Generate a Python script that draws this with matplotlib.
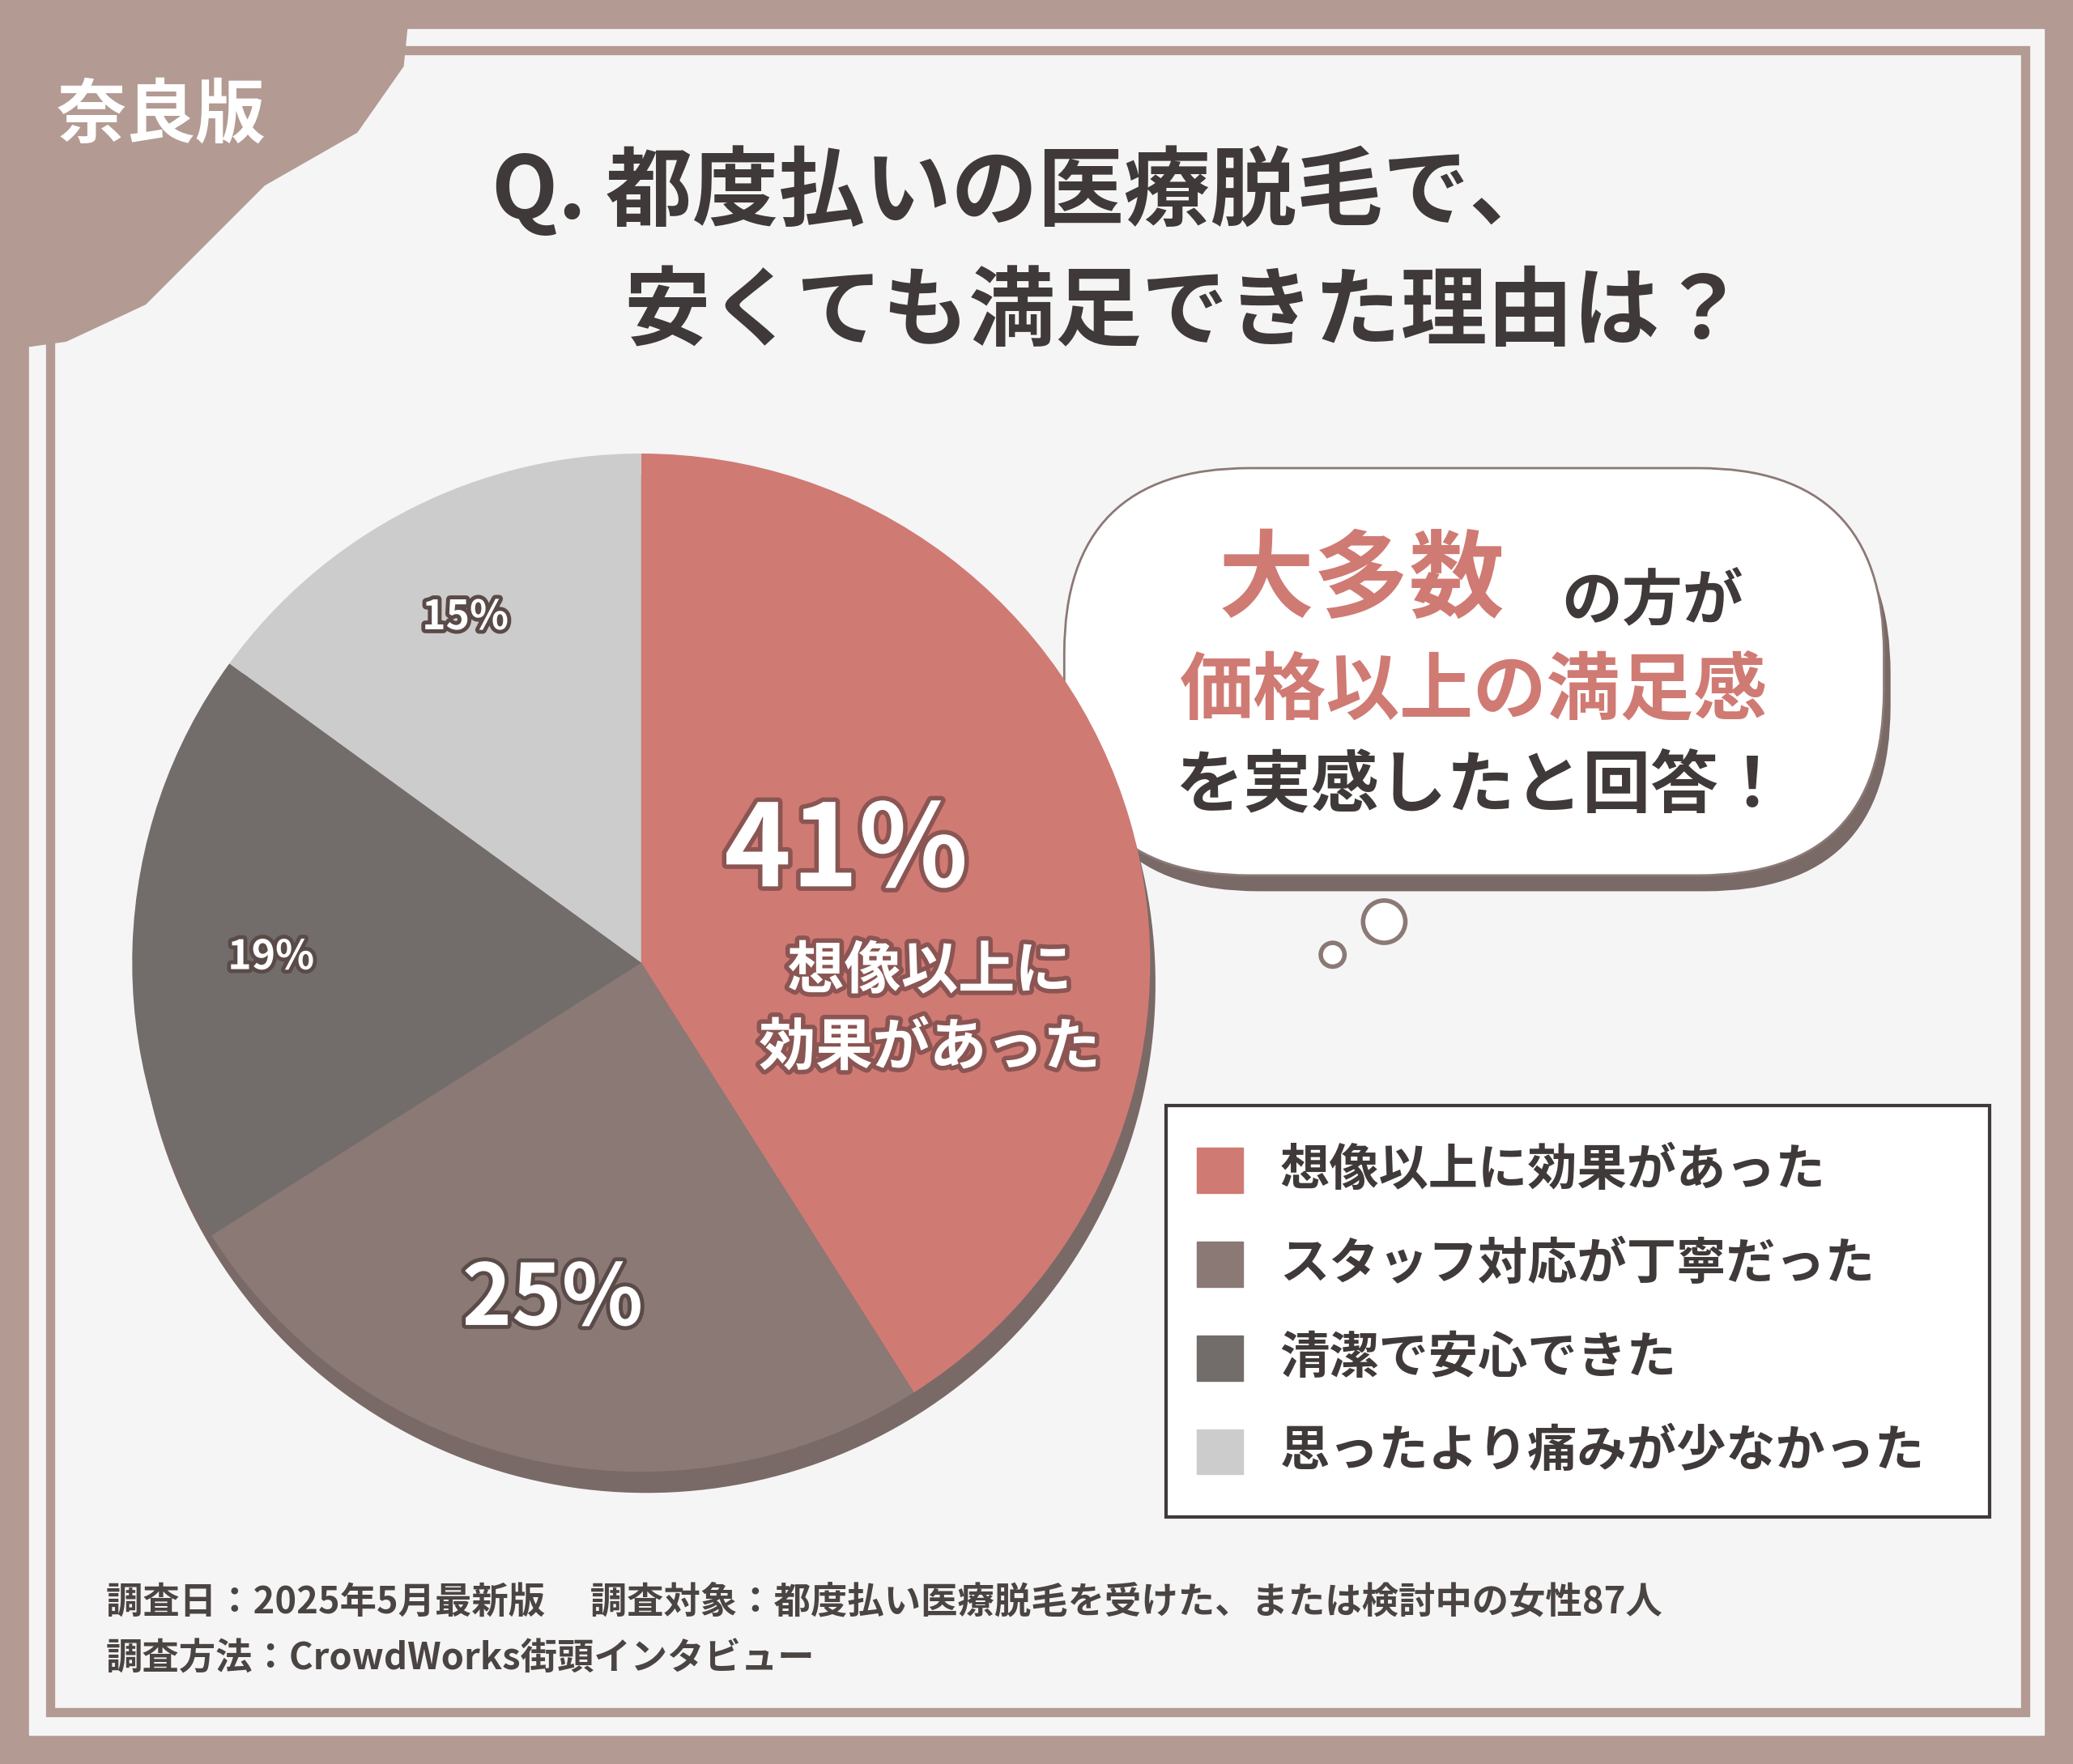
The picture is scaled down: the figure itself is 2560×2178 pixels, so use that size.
import matplotlib
matplotlib.use("Agg")
import matplotlib.pyplot as plt
from matplotlib.patches import Rectangle, Circle, FancyBboxPatch, Polygon
import matplotlib.patheffects as pe

FONT = "Noto Sans CJK JP"
plt.rcParams["font.family"] = FONT

categories = ["想像以上に効果があった", "スタッフ対応が丁寧だった", "清潔で安心できた", "思ったより痛みが少なかった"]
values = [41, 25, 19, 15]
colors = ["#D07A74", "#8B7976", "#726D6B", "#CDCCCC"]
pct_labels = ["41%", "25%", "19%", "15%"]

F = 1.633
W, H = 1568, 1334
fig = plt.figure(figsize=(25.6, 21.78), dpi=100)
ax = fig.add_axes([0, 0, 1, 1])
ax.set_xlim(0, W); ax.set_ylim(0, H); ax.axis("off")
Y = lambda y: H - y
frame = "#B39A93"
ax.add_patch(Rectangle((0, 0), W, H, color=frame, zorder=0))
ax.add_patch(Rectangle((22, Y(1312)), 1524, 1290, color="#F6F5F5", zorder=1))
ax.add_patch(Rectangle((38, Y(1295)), 1494, 1257, fill=False, ec=frame, lw=5 * F, zorder=2))
blob = [(0, Y(0)), (310, Y(0)), (305, Y(50)), (270, Y(100)), (200, Y(140)), (150, Y(190)),
        (110, Y(230)), (50, Y(258)), (0, Y(265))]
ax.add_patch(Polygon(blob, closed=True, color=frame, zorder=3))
ax.text(122, Y(88), "奈良版", fontsize=38 * F, color="white", weight="bold", ha="center", va="center", zorder=4)
ax.text(372, Y(145), "Q. 都度払いの医療脱毛で、", fontsize=47 * F, color="#3F3A39", weight="bold", va="center", zorder=4)
ax.text(472, Y(237), "安くても満足できた理由は？", fontsize=47 * F, color="#3F3A39", weight="bold", va="center", zorder=4)

pax = fig.add_axes([0, 0, 1, 1]); pax.axis("off")
cx, cy, r = 485, Y(728), 385
pax.pie([sum(values)], colors=["#7A6A67"], radius=r, center=(cx + 4, cy - 16), startangle=90,
        wedgeprops=dict(lw=0), frame=False)
pax.pie(values, colors=colors, radius=r, center=(cx, cy), startangle=90, counterclock=False,
        wedgeprops=dict(lw=0), frame=False)
pax.set_xlim(0, W); pax.set_ylim(0, H); pax.set_aspect("equal"); pax.axis("off")
sh = [pe.withStroke(linewidth=8, foreground="#8A5552")]
pax.text(640, Y(645), "41%", fontsize=62 * F, color="white", weight="bold", ha="center", va="center", path_effects=sh)
pax.text(703, Y(735), "想像以上に", fontsize=31 * F, color="white", weight="bold", ha="center", va="center", path_effects=sh)
pax.text(703, Y(793), "効果があった", fontsize=31 * F, color="white", weight="bold", ha="center", va="center", path_effects=sh)
sh2 = [pe.withStroke(linewidth=7, foreground="#5A4B48")]
pax.text(418, Y(983), "25%", fontsize=46 * F, color="white", weight="bold", ha="center", va="center", path_effects=sh2)
pax.text(205, Y(724), "19%", fontsize=22 * F, color="white", weight="bold", ha="center", va="center", path_effects=sh2)
pax.text(352, Y(467), "15%", fontsize=22 * F, color="white", weight="bold", ha="center", va="center", path_effects=sh2)

ax.add_patch(FancyBboxPatch((812, Y(674)), 618, 305, boxstyle="round,pad=0,rounding_size=140",
                            fc="#7A6A67", ec="none", zorder=3))
ax.add_patch(FancyBboxPatch((805, Y(662)), 620, 308, boxstyle="round,pad=0,rounding_size=140",
                            fc="white", ec="#8B7976", lw=2, zorder=4))
ax.add_patch(Circle((1047, Y(697)), 16, fc="white", ec="#8B7976", lw=4, zorder=4))
ax.add_patch(Circle((1008, Y(722)), 9, fc="white", ec="#8B7976", lw=4, zorder=4))
ax.text(1030, Y(440), "大多数", fontsize=52 * F, color="#D07A74", weight="bold", ha="center", va="center", zorder=5)
ax.text(1250, Y(455), "の方が", fontsize=33 * F, color="#3F3A39", weight="bold", ha="center", va="center", zorder=5)
ax.text(1115, Y(523), "価格以上の満足感", fontsize=40 * F, color="#D07A74", weight="bold", ha="center", va="center", zorder=5)
ax.text(1120, Y(595), "を実感したと回答！", fontsize=37 * F, color="#3F3A39", weight="bold", ha="center", va="center", zorder=5)

ax.add_patch(Rectangle((882, Y(1147)), 623, 311, fc="white", ec="#3F3A39", lw=3, zorder=3))
for i, (c, lab) in enumerate(zip(colors, categories)):
    yy = Y(885 + i * 71)
    ax.add_patch(Rectangle((905, yy - 17), 35, 34, color=c, zorder=4))
    ax.text(968, yy, lab, fontsize=27 * F, color="#3F3A39", weight="bold", va="center", zorder=4)

ax.text(80, Y(1212), "調査日：2025年5月最新版　 調査対象：都度払い医療脱毛を受けた、または検討中の女性87人",
        fontsize=20 * F, color="#4A4443", weight="bold", va="center", zorder=4)
ax.text(80, Y(1255), "調査方法：CrowdWorks街頭インタビュー", fontsize=20 * F, color="#4A4443", weight="bold", va="center", zorder=4)
fig.savefig("out.png", dpi=100)
